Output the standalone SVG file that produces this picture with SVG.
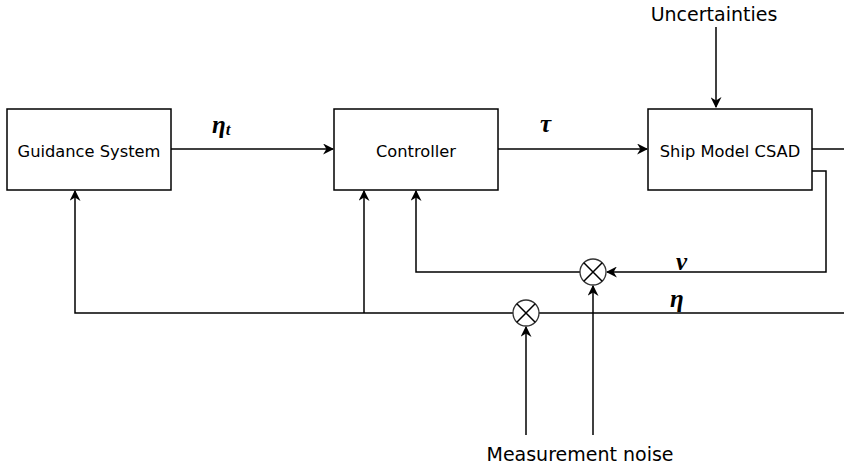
<svg xmlns="http://www.w3.org/2000/svg" width="844" height="468" viewBox="0 0 844 468">
<style>
.box{fill:#fff;stroke:#000;stroke-width:1.5}
.lbl{font-family:"DejaVu Sans",Verdana,sans-serif;font-size:16.3px;fill:#000;text-anchor:middle}
.big{font-size:19px}
.ln{fill:none;stroke:#000;stroke-width:1.5}
.m{font-family:"Liberation Serif","DejaVu Serif",serif;font-style:italic;font-weight:bold;font-size:25px;fill:#000}
.sum{fill:#fff;stroke:#333;stroke-width:1.3}
</style>
<defs>
<marker id="ah" viewBox="0 0 10 10" refX="9" refY="5" markerWidth="11" markerHeight="11" markerUnits="userSpaceOnUse" orient="auto">
<path d="M0,0 L10,5 L0,10 L3,5 Z" fill="#000"/>
</marker>
</defs>
<g id="connectors">
<line class="ln" x1="171" y1="149" x2="333" y2="149" marker-end="url(#ah)"/>
<line class="ln" x1="498" y1="149" x2="647" y2="149" marker-end="url(#ah)"/>
<line class="ln" x1="812" y1="149" x2="844" y2="149"/>
<line class="ln" x1="716" y1="27" x2="716" y2="107" marker-end="url(#ah)"/>
<polyline class="ln" points="812,171 826,171 826,272 607,272" marker-end="url(#ah)"/>
<polyline class="ln" points="580,272 416,272 416,191" marker-end="url(#ah)"/>
<line class="ln" x1="844" y1="313" x2="539" y2="313"/>
<polyline class="ln" points="513,313 75,313 75,191" marker-end="url(#ah)"/>
<line class="ln" x1="364" y1="313" x2="364" y2="191" marker-end="url(#ah)"/>
<line class="ln" x1="526" y1="435" x2="526" y2="327" marker-end="url(#ah)"/>
<line class="ln" x1="593" y1="435" x2="593" y2="286" marker-end="url(#ah)"/>
</g>
<g id="guidance">
<rect class="box" x="7" y="109" width="164" height="81"/>
<text class="lbl" x="89" y="157">Guidance System</text>
</g>
<g id="controller">
<rect class="box" x="334" y="109" width="164" height="81"/>
<text class="lbl" x="416" y="157">Controller</text>
</g>
<g id="ship">
<rect class="box" x="648" y="109" width="164" height="81"/>
<text class="lbl" x="730" y="157">Ship Model CSAD</text>
</g>
<g id="uncertainties">
<text class="lbl big" x="714" y="21">Uncertainties</text>
</g>
<g id="noise">
<text class="lbl big" x="580" y="461">Measurement noise</text>
</g>
<g id="sum-nu">
<circle class="sum" cx="593" cy="272" r="13"/>
<path class="ln" stroke-width="1" d="M583.8,262.8 L602.2,281.2 M602.2,262.8 L583.8,281.2"/>
</g>
<g id="sum-eta">
<circle class="sum" cx="526" cy="313" r="13"/>
<path class="ln" stroke-width="1" d="M516.8,303.8 L535.2,322.2 M535.2,303.8 L516.8,322.2"/>
</g>
<g id="labels">
<text class="m" x="212" y="133">η<tspan font-size="17" dy="2">t</tspan></text>
<text class="m" x="540" y="132">τ</text>
<text class="m" x="676" y="270">ν</text>
<text class="m" x="670" y="307">η</text>
</g>
</svg>
